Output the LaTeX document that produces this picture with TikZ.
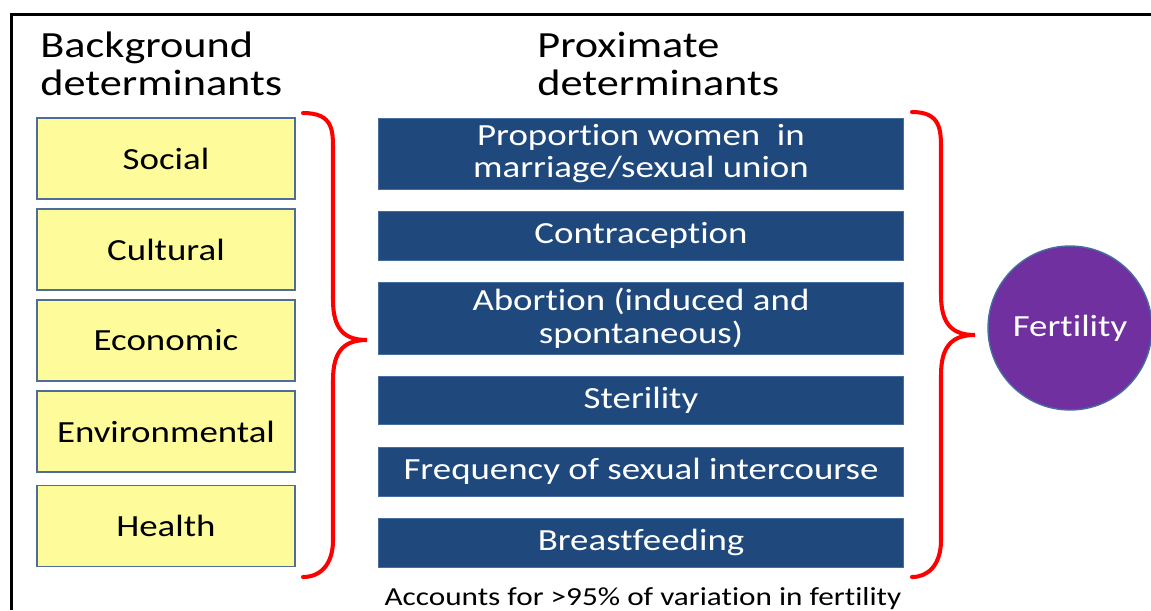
\documentclass[tikz,border=0pt]{standalone}
\usepackage{fontspec}
\setmainfont{Carlito}[FakeStretch=1.2,Ligatures=NoCommon]
\usepackage{xcolor}
\usetikzlibrary{positioning}
\definecolor{BG-YELLOW}{RGB}{253,251,154}
\definecolor{BG-EDGE}{RGB}{79,110,150}
\definecolor{PX-BLUE}{RGB}{31,73,125}
\definecolor{PX-EDGE}{RGB}{70,110,160}
\definecolor{FERT-PURPLE}{RGB}{112,48,160}

\begin{document}
\begin{tikzpicture}[x=0.02cm,y=-0.02cm,
		bgbox/.style={draw=BG-EDGE,line width=0.8pt,fill=BG-YELLOW,minimum width=5.16cm,minimum height=1.62cm,font=\fontsize{17.5}{19}\selectfont},
		pxbox/.style={draw=PX-EDGE,line width=0.5pt,fill=PX-BLUE,text=white,minimum width=10.5cm,align=center,font=\fontsize{17.5}{18.7}\selectfont},
		heading/.style={anchor=north west,inner sep=0,align=left,font=\fontsize{21}{21.5}\selectfont},
		brace/.style={draw=red,line width=2.3pt,line cap=round}]
			\useasboundingbox (0,0) rectangle (1151,610);
		
			% draw frame
			\draw[line width=0.06cm] (1151,14.5) -- (11.5,14.5) -- (11.5,610);
		
			% draw headings
			\node[heading] (bg_head) at (40,32) {Background\\determinants};
			\node[heading] (px_head) at (537,32) {Proximate\\determinants};
		
			% draw background boxes
			\foreach \name/\y/\txt in {social/158.5/Social,cultural/249.5/Cultural,economic/340.5/Economic,environmental/431.5/Environmental,health/526/Health}
				\node[bgbox] (\name) at (166,\y) {\txt};
		
			% draw proximate boxes
			\node[pxbox,minimum height=1.42cm] (marriage) at (641,153.5) {Proportion women\ \ in\\marriage/sexual union};
			\node[pxbox,minimum height=0.98cm] (contra) at (641,235.5) {Contraception};
			\node[pxbox,minimum height=1.4cm] (abortion) at (641,318) {Abortion (induced and\\spontaneous)};
			\node[pxbox,minimum height=0.96cm] (sterility) at (641,400) {Sterility};
			\node[pxbox,minimum height=0.98cm] (freq) at (641,471.5) {Frequency of sexual intercourse};
			\node[pxbox,minimum height=0.98cm] (breast) at (641,542.5) {Breastfeeding};
		
			% draw fertility
			\node (fertility) at (1070,328) [draw=PX-EDGE,line width=0.8pt,circle,fill=FERT-PURPLE,inner sep=0,minimum size=3.28cm,text=white,font=\fontsize{17.5}{19}\selectfont] {Fertility};
		
			% draw braces
			\draw[brace] (303,113) .. controls (333,113) and (333,130) .. (333,150) -- (333,300)
				.. controls (333,330) and (345,340) .. (367,340)
				.. controls (345,340) and (333,350) .. (333,380) -- (333,540)
				.. controls (333,565) and (320,577) .. (303,577);
			\draw[brace] (912,112) .. controls (941,112) and (941,130) .. (941,150) -- (941,295)
				.. controls (941,325) and (953,335) .. (975,335)
				.. controls (953,335) and (941,345) .. (941,375) -- (941,540)
				.. controls (941,565) and (928,577) .. (912,577);
		
			% draw note
			\node[font=\fontsize{14.8}{16}\selectfont] (note) at (643,599) {Accounts for >95\% of variation in fertility};
		\end{tikzpicture}
\end{document}
